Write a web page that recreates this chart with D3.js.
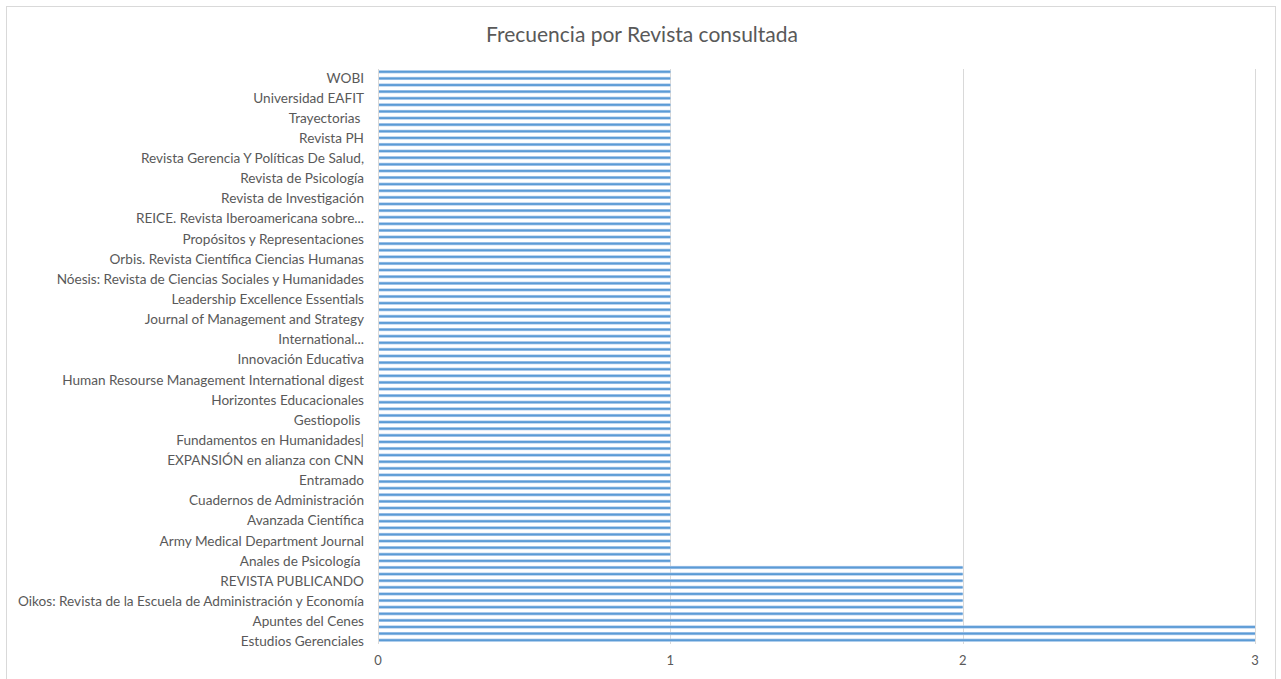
<!DOCTYPE html>
<html>
<head>
<meta charset="utf-8">
<script src="https://cdn.jsdelivr.net/npm/d3@7"></script>
<style>
  html, body { margin: 0; padding: 0; background: #fff; }
  svg { display: block; }
  text { font-family: Lato, "Noto Sans", sans-serif; white-space: pre; }
</style>
</head>
<body>
<svg id="chart" width="1281" height="679"></svg>
<script>
const title = "Frecuencia por Revista consultada";
const categories = [
  "WOBI",
  "Universidad EAFIT",
  "Trayectorias ",
  "Revista PH",
  "Revista Gerencia Y Políticas De Salud,",
  "Revista de Psicología",
  "Revista de Investigación",
  "REICE. Revista Iberoamericana sobre...",
  "Propósitos y Representaciones",
  "Orbis. Revista Científica Ciencias Humanas",
  "Nóesis: Revista de Ciencias Sociales y Humanidades",
  "Leadership Excellence Essentials",
  "Journal of Management and Strategy",
  "International...",
  "Innovación Educativa",
  "Human Resourse Management International digest",
  "Horizontes Educacionales",
  "Gestiopolis ",
  "Fundamentos en Humanidades|",
  "EXPANSIÓN en alianza con CNN",
  "Entramado",
  "Cuadernos de Administración",
  "Avanzada Científica",
  "Army Medical Department Journal",
  "Anales de Psicología ",
  "REVISTA PUBLICANDO",
  "Oikos: Revista de la Escuela de Administración y Economía",
  "Apuntes del Cenes",
  "Estudios Gerenciales"
];
const values = [1,1,1,1,1,1,1,1,1,1,1,1,1,1,1,1,1,1,1,1,1,1,1,1,1,2,2,2,3];
const xTicks = [0, 1, 2, 3];

const svg = d3.select("#chart");
const m = { left: 378, right: 1255, top: 69, bottom: 644 };

// chart border
svg.append("rect")
  .attr("x", 6.5).attr("y", 6.5)
  .attr("width", 1269).attr("height", 690)
  .attr("fill", "#fff").attr("stroke", "#d9d9d9").attr("stroke-width", 1);

svg.append("text")
  .attr("x", 642).attr("y", 42)
  .attr("text-anchor", "middle")
  .attr("font-size", 21)
  .attr("fill", "#595959")
  .text(title);

const x = d3.scaleLinear().domain([0, 3]).range([m.left, m.right]);
const y = d3.scaleBand().domain(categories).range([m.top, m.bottom]).padding(0);
const sub = d3.scaleBand().domain([0, 1, 2]).range([0, y.bandwidth()]).padding(0);
const yLabel = d3.scalePoint().domain(categories).range([77.8, 641.5]);

// gridlines
svg.append("g").selectAll("line").data(xTicks).join("line")
  .attr("x1", d => Math.round(x(d)) + 0.5).attr("x2", d => Math.round(x(d)) + 0.5)
  .attr("y1", m.top).attr("y2", m.bottom)
  .attr("stroke", "#d9d9d9").attr("stroke-width", 1);

// bars: each drawn as three thin stripes
const bars = svg.append("g").selectAll("g").data(categories).join("g")
  .attr("transform", d => `translate(0,${y(d)})`);
bars.each(function(d, i) {
  const g = d3.select(this);
  [0, 1, 2].forEach(k => {
    const cy = sub(k) + sub.bandwidth() / 2 - 0.5;
    g.append("rect")
      .attr("x", x(0) + 1).attr("y", cy - 1.6)
      .attr("width", x(values[i]) - x(0) - 1).attr("height", 3.2)
      .attr("fill", "#a9c8ec");
    g.append("rect")
      .attr("x", x(0) + 1).attr("y", cy - 0.9)
      .attr("width", x(values[i]) - x(0) - 1).attr("height", 1.8)
      .attr("fill", "#5b9bd5");
  });
});

// category labels
svg.append("g").selectAll("text").data(categories).join("text")
  .attr("x", 364)
  .attr("y", d => yLabel(d))
  .attr("dy", "0.35em")
  .attr("text-anchor", "end")
  .attr("font-size", 13.6)
  .attr("fill", "#595959")
  .text(d => d);

// x tick labels
svg.append("g").selectAll("text").data(xTicks).join("text")
  .attr("x", d => x(d))
  .attr("y", 665)
  .attr("text-anchor", "middle")
  .attr("font-size", 13)
  .attr("fill", "#595959")
  .text(d => d);
</script>
</body>
</html>
